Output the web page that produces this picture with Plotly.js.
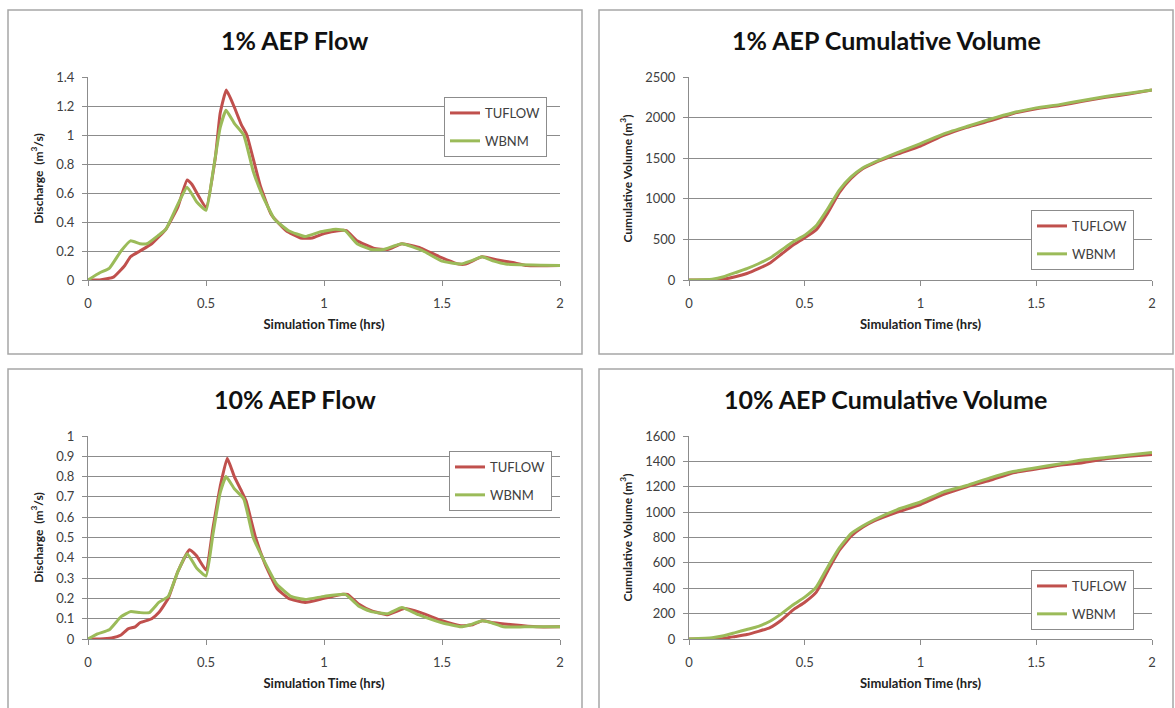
<!DOCTYPE html>
<html>
<head>
<meta charset="utf-8">
<script src="https://cdn.plot.ly/plotly-3.0.1.min.js"></script>
<style>
html,body{margin:0;padding:0;background:#fff;}
#chart{width:1175px;height:708px;}
</style>
</head>
<body>
<div id="chart"></div>
<script>
// ---------- DATA ----------
const seriesNames = ["TUFLOW", "WBNM"];
const panelTitles = ["1% AEP Flow", "1% AEP Cumulative Volume", "10% AEP Flow", "10% AEP Cumulative Volume"];
const xTitle = "Simulation Time (hrs)";
const yTitleFlow = "Discharge  (m<sup>3</sup>/s)";
const yTitleVol = "Cumulative Volume (m<sup>3</sup>)";

// 1% AEP Flow
const t1FlowTuflow = [0, 0.05, 0.108, 0.156, 0.18, 0.22, 0.27, 0.33, 0.38, 0.42, 0.44, 0.5, 0.54, 0.56, 0.586, 0.618, 0.65, 0.673, 0.73, 0.777, 0.84, 0.9, 0.95, 1.0, 1.06, 1.095, 1.14, 1.21, 1.27, 1.33, 1.41, 1.49, 1.57, 1.6, 1.67, 1.73, 1.8, 1.86, 2.0];
const q1FlowTuflow = [0, 0, 0.02, 0.1, 0.16, 0.2, 0.25, 0.35, 0.5, 0.69, 0.66, 0.5, 0.85, 1.15, 1.31, 1.2, 1.07, 1.0, 0.65, 0.45, 0.34, 0.29, 0.29, 0.32, 0.34, 0.34, 0.27, 0.22, 0.21, 0.25, 0.22, 0.16, 0.11, 0.11, 0.16, 0.14, 0.12, 0.1, 0.1];
const t1FlowWbnm = [0, 0.05, 0.09, 0.14, 0.18, 0.22, 0.25, 0.3, 0.33, 0.38, 0.42, 0.46, 0.5, 0.53, 0.56, 0.585, 0.62, 0.66, 0.7, 0.74, 0.79, 0.85, 0.92, 0.98, 1.05, 1.09, 1.14, 1.2, 1.25, 1.33, 1.42, 1.5, 1.58, 1.62, 1.67, 1.72, 1.77, 2.0];
const q1FlowWbnm = [0, 0.05, 0.08, 0.2, 0.27, 0.25, 0.25, 0.31, 0.35, 0.52, 0.64, 0.54, 0.48, 0.75, 1.05, 1.17, 1.08, 1.0, 0.75, 0.58, 0.42, 0.34, 0.3, 0.33, 0.35, 0.34, 0.25, 0.21, 0.21, 0.25, 0.2, 0.13, 0.11, 0.13, 0.16, 0.13, 0.11, 0.1];

// 10% AEP Flow
const t10FlowTuflow = [0, 0.05, 0.1, 0.14, 0.17, 0.2, 0.22, 0.27, 0.3, 0.34, 0.38, 0.43, 0.46, 0.5, 0.53, 0.56, 0.59, 0.62, 0.65, 0.67, 0.71, 0.75, 0.8, 0.85, 0.92, 1.0, 1.08, 1.1, 1.15, 1.2, 1.27, 1.34, 1.41, 1.5, 1.58, 1.63, 1.67, 1.72, 1.8, 1.9, 2.0];
const q10FlowTuflow = [0, 0, 0.005, 0.02, 0.05, 0.06, 0.08, 0.1, 0.13, 0.2, 0.33, 0.44, 0.41, 0.34, 0.55, 0.75, 0.89, 0.8, 0.73, 0.68, 0.5, 0.37, 0.25, 0.2, 0.18, 0.2, 0.22, 0.22, 0.17, 0.14, 0.12, 0.15, 0.13, 0.09, 0.065, 0.07, 0.09, 0.08, 0.07, 0.06, 0.06];
const t10FlowWbnm = [0, 0.04, 0.09, 0.14, 0.18, 0.22, 0.26, 0.3, 0.34, 0.38, 0.42, 0.46, 0.5, 0.53, 0.56, 0.585, 0.62, 0.66, 0.7, 0.74, 0.8, 0.86, 0.92, 1.0, 1.09, 1.15, 1.2, 1.27, 1.33, 1.4, 1.5, 1.58, 1.62, 1.67, 1.71, 1.76, 1.85, 2.0];
const q10FlowWbnm = [0, 0.025, 0.045, 0.11, 0.135, 0.13, 0.13, 0.18, 0.21, 0.33, 0.42, 0.35, 0.31, 0.52, 0.72, 0.8, 0.74, 0.69, 0.5, 0.4, 0.27, 0.21, 0.195, 0.21, 0.22, 0.16, 0.135, 0.125, 0.155, 0.12, 0.08, 0.06, 0.07, 0.09, 0.08, 0.06, 0.06, 0.06];

// Cumulative volumes
const tVol = [0, 0.1, 0.15, 0.2, 0.25, 0.3, 0.35, 0.4, 0.45, 0.5, 0.55, 0.6, 0.65, 0.7, 0.75, 0.8, 0.9, 1.0, 1.1, 1.2, 1.3, 1.4, 1.5, 1.6, 1.7, 1.8, 1.9, 2.0];
const v1Tuflow = [0, 0, 10, 40, 80, 140, 210, 320, 430, 520, 620, 830, 1080, 1250, 1370, 1440, 1550, 1650, 1780, 1880, 1960, 2050, 2110, 2150, 2200, 2250, 2290, 2340];
const v1Wbnm = [0, 10, 40, 90, 140, 200, 270, 370, 470, 550, 670, 880, 1110, 1270, 1380, 1450, 1570, 1680, 1800, 1890, 1980, 2060, 2120, 2160, 2210, 2260, 2300, 2340];
const v10Tuflow = [0, 0, 5, 20, 35, 60, 90, 150, 230, 290, 370, 540, 700, 810, 880, 930, 1000, 1060, 1140, 1200, 1250, 1310, 1340, 1370, 1390, 1420, 1440, 1455];
const v10Wbnm = [0, 10, 25, 50, 75, 100, 140, 200, 270, 330, 410, 570, 720, 830, 890, 940, 1020, 1080, 1160, 1210, 1270, 1320, 1350, 1380, 1410, 1430, 1450, 1470];

// ---------- STYLE ----------
const W = 1175, H = 708;
const red = "#C0504D", green = "#9BBB59";
const gridCol = "#8c8c8c", txtCol = "#404040";
const FONT = "Lato, 'Open Sans', sans-serif";
const px = v => v / W, py = v => 1 - v / H;

function tr(x, y, name, color, axisIdx) {
  const sfx = axisIdx === 1 ? "" : String(axisIdx);
  return {
    x: x, y: y, name: name, type: "scatter", mode: "lines",
    line: {color: color, width: 3, shape: "spline", smoothing: 0.4},
    xaxis: "x" + sfx, yaxis: "y" + sfx,
    legend: "legend" + sfx, legendgroup: name + sfx, showlegend: true,
    hoverinfo: "skip"
  };
}

const data = [
  tr(t1FlowTuflow, q1FlowTuflow, seriesNames[0], red, 1),
  tr(t1FlowWbnm, q1FlowWbnm, seriesNames[1], green, 1),
  tr(tVol, v1Tuflow, seriesNames[0], red, 2),
  tr(tVol, v1Wbnm, seriesNames[1], green, 2),
  tr(t10FlowTuflow, q10FlowTuflow, seriesNames[0], red, 3),
  tr(t10FlowWbnm, q10FlowWbnm, seriesNames[1], green, 3),
  tr(tVol, v10Tuflow, seriesNames[0], red, 4),
  tr(tVol, v10Wbnm, seriesNames[1], green, 4)
];

function xax(domain, anchor) {
  return {
    domain: domain, anchor: anchor, range: [0, 2], dtick: 0.5, tick0: 0,
    showgrid: false, zeroline: false, showline: true, linecolor: gridCol, linewidth: 1,
    ticks: "outside", ticklen: 5, tickcolor: gridCol, ticklabelstandoff: 6,
    tickfont: {family: FONT, size: 13, color: txtCol},
    title: {text: "<b>" + xTitle + "</b>", font: {family: FONT, size: 13, color: "#222"}, standoff: 10},
    fixedrange: true
  };
}
function yax(domain, anchor, range, dtick, title) {
  return {
    domain: domain, anchor: anchor, range: range, dtick: dtick, tick0: 0,
    showgrid: true, gridcolor: gridCol, gridwidth: 1, zeroline: false,
    showline: true, linecolor: gridCol, linewidth: 1,
    ticks: "outside", ticklen: 5, tickcolor: gridCol, ticklabelstandoff: 5,
    tickfont: {family: FONT, size: 13, color: txtCol},
    title: {text: "<b>" + title + "</b>", font: {family: FONT, size: 12, color: "#222"}, standoff: 10},
    fixedrange: true
  };
}

const xL = [px(88), px(560)], xR = [px(689), px(1152)];
const yT = [py(280), py(77)], yB = [py(639), py(436)];

function leg(x, y) {
  return {
    x: x, y: y, xanchor: "left", yanchor: "top", xref: "paper", yref: "paper",
    bgcolor: "#fff", bordercolor: gridCol, borderwidth: 1,
    font: {family: FONT, size: 13, color: txtCol},
    traceorder: "grouped", tracegroupgap: 8, itemwidth: 30
  };
}

function title(text, x, y) {
  return {text: "<b>" + text + "</b>", x: x, y: y, xref: "paper", yref: "paper",
    xanchor: "center", yanchor: "middle", showarrow: false,
    font: {family: FONT, size: 25, color: "#111"}};
}

function box(x0, x1, y0, y1) {
  return {type: "rect", xref: "paper", yref: "paper", x0: px(x0), x1: px(x1), y0: py(y1), y1: py(y0),
    line: {color: "#a6a6a6", width: 1.5}, fillcolor: "rgba(0,0,0,0)", layer: "below"};
}

const layout = {
  width: W, height: H, margin: {l: 0, r: 0, t: 0, b: 0},
  paper_bgcolor: "#fff", plot_bgcolor: "#fff",
  xaxis: xax(xL, "y"), yaxis: yax(yT, "x", [0, 1.4], 0.2, yTitleFlow),
  xaxis2: xax(xR, "y2"), yaxis2: yax(yT, "x2", [0, 2500], 500, yTitleVol),
  xaxis3: xax(xL, "y3"), yaxis3: yax(yB, "x3", [0, 1], 0.1, yTitleFlow),
  xaxis4: xax(xR, "y4"), yaxis4: yax(yB, "x4", [0, 1600], 200, yTitleVol),
  legend: leg(px(444), py(97)),
  legend2: leg(px(1031), py(210)),
  legend3: leg(px(449), py(451)),
  legend4: leg(px(1031), py(570)),
  annotations: [
    title(panelTitles[0], px(295), py(40)),
    title(panelTitles[1], px(886), py(40)),
    title(panelTitles[2], px(295), py(399)),
    title(panelTitles[3], px(885), py(399))
  ],
  shapes: [
    box(8, 582, 10, 354),
    box(599, 1173, 10, 354),
    box(8, 582, 369, 720),
    box(599, 1173, 369, 720)
  ]
};

Plotly.newPlot("chart", data, layout, {displayModeBar: false, staticPlot: true});
</script>
</body>
</html>
